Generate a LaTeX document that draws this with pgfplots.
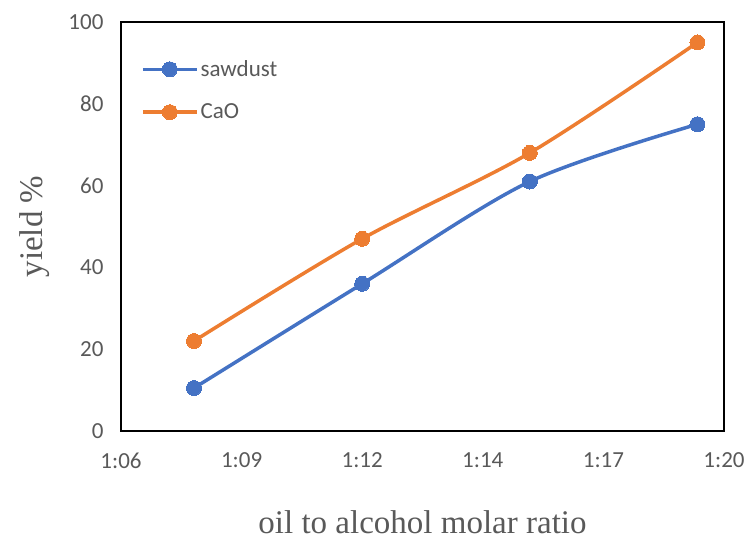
\documentclass[border=0pt]{standalone}
\usepackage{fontspec}
\setmainfont{Liberation Serif}
\newfontfamily\calibri{Carlito}
\usepackage{pgfplots}
\pgfplotsset{compat=1.18}
\definecolor{xlblue}{HTML}{4472C4}
\definecolor{xlorange}{HTML}{ED7D31}
\definecolor{xlgray}{HTML}{595959}
\begin{document}
\begin{tikzpicture}
\useasboundingbox (0,0) rectangle (747pt,544pt);
\begin{axis}[
  at={(121pt,113pt)}, anchor=south west,
  width=603pt, height=409pt, scale only axis,
  xmin=0, xmax=5, ymin=0, ymax=100,
  xtick={0,1,2,3,4,5},
  xticklabels={1:06,1:09,1:12,1:14,1:17,1:20},
  ytick={0,20,40,60,80,100},
  major tick length=0pt,
  axis line style={line width=1.6pt, black},
  tick label style={font=\calibri\fontsize{23}{23}\selectfont, text=xlgray},
  /pgf/number format/assume math mode=true,
  xticklabel style={yshift=-18pt},
  yticklabel style={xshift=-14pt},
  xlabel={oil to alcohol molar ratio},
  ylabel={yield \%},
  label style={font=\fontsize{33}{33}\selectfont, text=xlgray},
  xlabel style={at={(axis description cs:0.5,-0.2225)}, anchor=center},
  ylabel style={at={(axis description cs:-0.1426,0.5)}, anchor=center},
  legend style={at={(0.028,0.916)}, anchor=north west, draw=none, fill=none,
    font=\calibri\fontsize{23}{23}\selectfont, text=xlgray,
    row sep=22pt},
  legend cell align=left,
  legend image code/.code={\draw[mark repeat=2,mark phase=2,#1] plot coordinates {(0pt,0pt) (27pt,0pt) (54pt,0pt)};},
]
\addplot[xlblue, line width=3.5pt, smooth, tension=0.5, mark=*, mark size=7.5pt, mark options={solid, fill=xlblue, draw=xlblue, line width=0pt}]
  coordinates {(0.605,10.5) (2.0,36) (3.39,61) (4.78,75)};
\addlegendentry{sawdust}
\addplot[xlorange, line width=3.5pt, smooth, tension=0.5, mark=*, mark size=7.5pt, mark options={solid, fill=xlorange, draw=xlorange, line width=0pt}]
  coordinates {(0.605,22) (2.0,47) (3.39,68) (4.78,95)};
\addlegendentry{CaO}
\end{axis}
\end{tikzpicture}
\end{document}
